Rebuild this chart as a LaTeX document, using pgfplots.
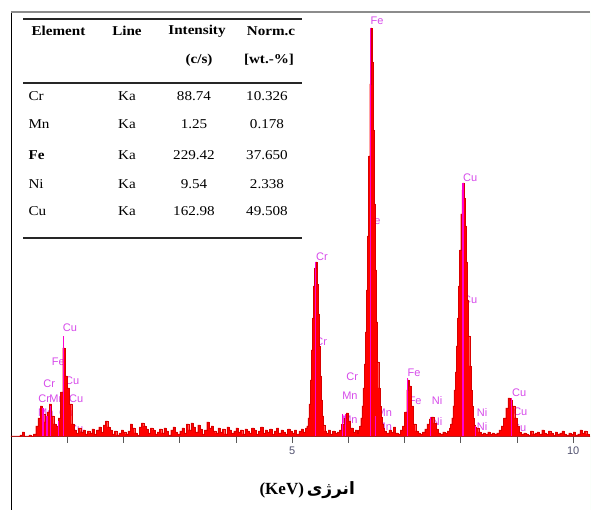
\documentclass[border=0pt]{standalone}
\usepackage{pgfplots}
\pgfplotsset{compat=1.18}
\usepackage{fontspec}
\setmainfont{Liberation Serif}
\setsansfont{Liberation Sans}
\newfontfamily\tabfont[FakeStretch=1.12]{Liberation Serif}
\newfontfamily\arabicfont[Script=Arabic]{DejaVu Sans}
\TeXXeTstate=1
\definecolor{peaklbl}{RGB}{214,74,234}
\definecolor{klm}{RGB}{255,0,210}
\definecolor{ticktxt}{RGB}{80,80,110}

% spectrum: energy (keV), counts (px above baseline)
\pgfplotstableread{
E h
0.00 0
0.04 0
0.08 0
0.12 0
0.16 1
0.20 4
0.24 0
0.28 0
0.32 1
0.36 0
0.40 2
0.44 10
0.48 18
0.52 30
0.56 22
0.60 14
0.64 24
0.68 32
0.72 20
0.76 12
0.80 10
0.84 18
0.88 44
0.92 88
0.96 60
1.00 48
1.04 32
1.08 12
1.12 6
1.16 3
1.20 8
1.24 4
1.28 6
1.32 2
1.36 5
1.40 3
1.44 7
1.48 2
1.52 6
1.56 9
1.60 4
1.64 11
1.68 15
1.72 9
1.76 6
1.80 2
1.84 5
1.88 1
1.92 3
1.96 6
2.00 4
2.04 2
2.08 5
2.12 12
2.16 8
2.20 3
2.24 1
2.28 9
2.32 13
2.36 10
2.40 7
2.44 3
2.48 8
2.52 6
2.56 2
2.60 4
2.64 7
2.68 3
2.72 8
2.76 5
2.80 1
2.84 6
2.88 9
2.92 4
2.96 2
3.00 5
3.04 8
3.08 3
3.12 12
3.16 6
3.20 13
3.24 9
3.28 4
3.32 11
3.36 7
3.40 2
3.44 6
3.48 14
3.52 8
3.56 10
3.60 5
3.64 3
3.68 8
3.72 4
3.76 7
3.80 2
3.84 9
3.88 6
3.92 3
3.96 5
4.00 8
4.04 4
4.08 6
4.12 2
4.16 7
4.20 5
4.24 3
4.28 8
4.32 6
4.36 2
4.40 5
4.44 9
4.48 3
4.52 6
4.56 4
4.60 7
4.64 2
4.68 5
4.72 8
4.76 3
4.80 6
4.84 4
4.88 2
4.92 7
4.96 5
5.00 3
5.04 6
5.08 2
5.12 5
5.16 7
5.20 4
5.24 8
5.26 10
5.28 18
5.30 32
5.32 56
5.34 86
5.36 118
5.38 150
5.40 168
5.42 174
5.44 152
5.46 122
5.48 90
5.50 60
5.52 36
5.54 20
5.56 11
5.58 5
5.60 3
5.64 6
5.68 2
5.72 5
5.76 3
5.80 4
5.84 6
5.88 12
5.92 18
5.96 23
6.00 15
6.04 8
6.08 4
6.12 6
6.16 3
6.18 6
6.20 10
6.22 18
6.24 30
6.26 48
6.28 72
6.30 104
6.32 146
6.34 200
6.36 280
6.38 352
6.40 408
6.42 374
6.44 306
6.46 232
6.48 166
6.50 114
6.52 74
6.54 48
6.56 30
6.58 19
6.60 12
6.62 8
6.64 5
6.68 3
6.72 6
6.76 4
6.80 9
6.84 3
6.88 2
6.92 6
6.96 10
7.00 24
7.04 46
7.06 56
7.08 50
7.12 30
7.16 12
7.20 5
7.24 3
7.28 2
7.32 4
7.36 7
7.40 12
7.44 17
7.48 19
7.52 13
7.56 7
7.60 3
7.64 2
7.68 4
7.72 3
7.76 5
7.80 8
7.82 12
7.84 18
7.86 30
7.88 46
7.90 64
7.92 90
7.94 118
7.96 150
7.98 186
8.00 222
8.02 246
8.04 253
8.06 238
8.08 210
8.10 174
8.12 136
8.14 100
8.16 70
8.18 46
8.20 30
8.22 18
8.24 11
8.26 9
8.28 8
8.32 4
8.36 2
8.40 3
8.44 2
8.48 4
8.52 2
8.56 3
8.60 2
8.64 3
8.68 6
8.72 10
8.76 18
8.80 28
8.84 38
8.88 36
8.92 30
8.96 18
9.00 10
9.04 4
9.08 2
9.12 3
9.16 2
9.20 1
9.24 5
9.28 2
9.32 3
9.36 4
9.40 2
9.44 6
9.48 3
9.52 2
9.56 5
9.60 3
9.64 1
9.68 4
9.72 2
9.76 3
9.80 5
9.84 2
9.88 1
9.92 3
9.96 2
10.00 4
10.04 1
10.08 2
10.12 6
10.16 3
10.20 5
10.24 2
10.28 0
10.30 0
}\spectrum

\begin{document}
\begin{tikzpicture}[
  lbl/.style={font=\sffamily\fontsize{11}{13}\selectfont, text=peaklbl, inner sep=0pt},
]
\useasboundingbox (-11pt,0pt) rectangle (580pt,510pt);
\begin{axis}[
  at={(0pt,0pt)}, anchor=south west,
  scale only axis, width=579pt, height=498pt,
  xmin=0, xmax=10.3, ymin=-74, ymax=424,
  axis x line=middle, axis y line=left,
  axis line style={-},
  x axis line style={draw=black!65, line width=0.8pt},
  y axis line style={draw=black, line width=0.8pt},
  xtick={1,...,10}, xticklabels={,,,,5,,,,,10},
  ytick=\empty,
  tick align=outside,
  major tick length=7pt,
  xtick style={draw=black!65, line width=0.6pt},
  ticklabel style={font=\sffamily\fontsize{11}{13}\selectfont, text=ticktxt},
]
% peak labels (behind the spectrum)
\node[lbl] at (axis cs:1.05,108) {Cu};
\node[lbl] at (axis cs:0.84,74) {Fe};
\node[lbl] at (axis cs:1.09,55) {Cu};
\node[lbl] at (axis cs:0.68,52) {Cr};
\node[lbl] at (axis cs:0.59,37) {Cr};
\node[lbl] at (axis cs:0.82,37) {Mn};
\node[lbl] at (axis cs:1.16,37) {Cu};
\node[lbl] at (axis cs:0.62,23) {Mn};
\node[lbl] at (axis cs:0.98,23) {Cu};
\node[lbl] at (axis cs:0.64,8) {Fe};
\node[lbl] at (axis cs:1.16,7) {Cu};
\node[lbl] at (axis cs:6.51,415) {Fe};
\node[lbl] at (axis cs:6.46,215) {Fe};
\node[lbl] at (axis cs:5.53,179) {Cr};
\node[lbl] at (axis cs:5.52,94) {Cr};
\node[lbl] at (axis cs:6.07,59) {Cr};
\node[lbl] at (axis cs:6.03,40) {Mn};
\node[lbl] at (axis cs:6.03,16) {Mn};
\node[lbl] at (axis cs:6.64,23) {Mn};
\node[lbl] at (axis cs:6.64,9) {Mn};
\node[lbl] at (axis cs:7.17,63) {Fe};
\node[lbl] at (axis cs:7.19,35) {Fe};
\node[lbl] at (axis cs:7.58,35) {Ni};
\node[lbl] at (axis cs:7.58,14) {Ni};
\node[lbl] at (axis cs:8.17,258) {Cu};
\node[lbl] at (axis cs:8.17,136) {Cu};
\node[lbl] at (axis cs:8.38,23) {Ni};
\node[lbl] at (axis cs:8.38,9) {Ni};
\node[lbl] at (axis cs:9.04,43) {Cu};
\node[lbl] at (axis cs:9.06,24) {Cu};
\node[lbl] at (axis cs:9.04,8) {Cu};

\addplot[const plot, fill=red, draw=red!85!black, line width=0.2pt]
  table[x=E, y=h] {\spectrum} \closedcycle;

% KLM marker lines
\addplot[ycomb, draw=klm, line width=1.1pt, mark=none] coordinates {
  (0.57,28) (0.64,20) (0.70,30) (0.85,15) (0.93,100)
  (5.41,174) (5.90,22) (5.95,22) (6.40,408) (6.49,20)
  (7.06,58) (7.47,19) (8.04,253) (8.26,10) (8.90,38)
};

\draw[black!45, line width=2pt] (rel axis cs:0,1) -- (rel axis cs:1,1);
\draw[green!12, line width=0.8pt] (rel axis cs:1,0) -- (rel axis cs:1,1);
\node[text=black, font=\rmfamily] at (axis cs:5.27,-54)
  {\fontsize{17}{20}\selectfont\bfseries (KeV)\,{\arabicfont\beginR انرژی\endR}};
\end{axis}

% element table
\begin{scope}[every node/.style={font=\tabfont\fontsize{13.5}{16}\selectfont}]
\draw[black!85, line width=1.6pt] (12pt,491pt) -- (291pt,491pt);
\draw[black!85, line width=1.4pt] (12pt,427pt) -- (291pt,427pt);
\draw[black!85, line width=1.8pt] (12pt,272pt) -- (291pt,272pt);
\node[anchor=west] at (17pt,479pt) {\bfseries Element};
\node at (116pt,479pt) {\bfseries Line};
\node at (186pt,479pt) {\bfseries Intensity};
\node at (260pt,479pt) {\bfseries Norm.c};
\node at (188pt,450pt) {\bfseries (c/s)};
\node at (258pt,450pt) {\bfseries [wt.-\%]};
\node[anchor=west] at (14pt,414pt) {Cr};
\node[anchor=west] at (14pt,386pt) {Mn};
\node[anchor=west] at (14pt,355pt) {\bfseries Fe};
\node[anchor=west] at (14pt,326pt) {Ni};
\node[anchor=west] at (14pt,299pt) {Cu};
\node at (116pt,414pt) {Ka};
\node at (116pt,386pt) {Ka};
\node at (116pt,355pt) {Ka};
\node at (116pt,326pt) {Ka};
\node at (116pt,299pt) {Ka};
\node at (183pt,414pt) {88.74};
\node at (183pt,386pt) {1.25};
\node at (183pt,355pt) {229.42};
\node at (183pt,326pt) {9.54};
\node at (183pt,299pt) {162.98};
\node at (256pt,414pt) {10.326};
\node at (256pt,386pt) {0.178};
\node at (256pt,355pt) {37.650};
\node at (256pt,326pt) {2.338};
\node at (256pt,299pt) {49.508};
\end{scope}
\end{tikzpicture}
\end{document}
